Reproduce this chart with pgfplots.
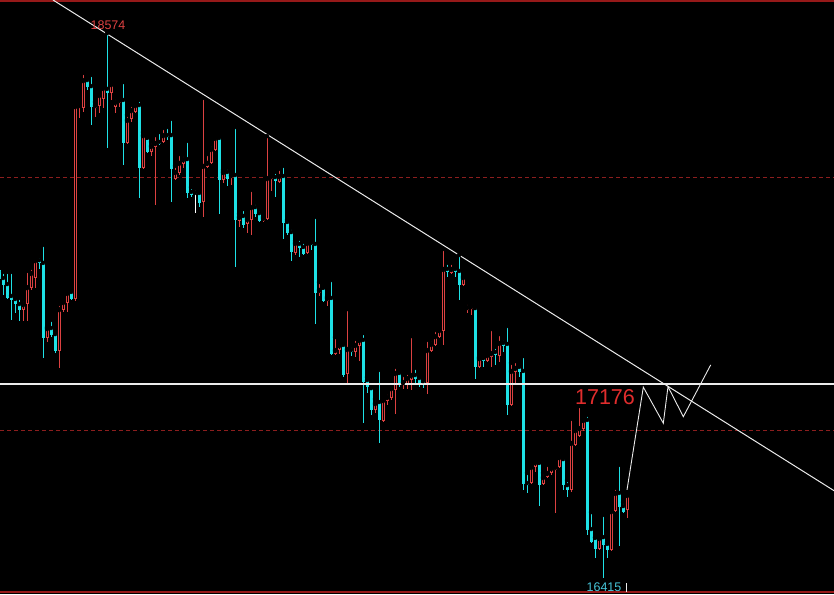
\documentclass[border=0pt]{standalone}
\usepackage{pgfplots}
\pgfplotsset{compat=1.18}
\usepackage{pgfplotstable}
\usepackage{fontspec}
\setmainfont{Liberation Sans}
\definecolor{cyanC}{RGB}{30,225,230}
\definecolor{redC}{RGB}{220,65,65}
\definecolor{redB}{RGB}{150,25,25}
\definecolor{redD}{RGB}{140,30,30}
\definecolor{redT}{RGB}{225,45,45}
\definecolor{cyanT}{RGB}{70,195,215}
\definecolor{whiteL}{RGB}{235,235,235}

% up (red) candles: x open high low close
\pgfplotstableread{
x o h l c
23 17477 17517 17434 17501
27 17501 17632 17434 17568
31 17565 17644 17557 17624
35 17604 17683 17565 17675
47 17367 17410 17351 17406
59 17315 17501 17248 17481
63 17477 17513 17469 17509
67 17505 17549 17469 17545
75 17521 18289 17513 18285
79 18281 18301 18238 18289
83 18277 18416 18261 18388
95 18277 18301 18242 18289
99 18285 18337 18258 18329
103 18313 18368 18277 18357
111 18337 18376 18309 18372
115 18281 18317 18258 18301
119 18297 18317 18281 18309
127 18139 18250 18135 18230
131 18234 18289 18222 18269
135 18261 18301 18258 18289
143 18040 18182 18036 18170
151 18103 18143 18087 18127
155 18123 18170 17893 18139
163 18143 18198 18139 18170
175 17996 18048 17992 18024
179 18020 18095 18012 18060
183 18056 18091 18040 18075
203 17905 18317 17846 18048
207 18044 18095 18040 18060
211 18060 18131 18056 18115
215 18111 18166 18107 18159
223 17992 18032 17980 18024
231 18000 18024 17972 18012
239 17830 17858 17806 17846
247 17818 17846 17782 17838
251 17834 17953 17774 17885
263 17830 17846 17826 17842
267 17838 18166 17834 18000
271 17996 18020 17949 18008
279 17984 18036 17980 18008
295 17703 17751 17695 17743
307 17703 17751 17699 17743
319 17545 17588 17533 17557
327 17513 17529 17493 17525
335 17303 17370 17299 17319
339 17319 17351 17303 17339
347 17224 17481 17188 17323
355 17311 17363 17291 17339
359 17335 17370 17275 17359
375 17081 17125 17070 17109
383 17038 17125 17034 17121
387 17117 17149 17101 17133
391 17129 17172 17121 17168
395 17161 17252 17066 17228
403 17184 17220 17165 17192
407 17184 17228 17165 17208
411 17200 17374 17161 17220
427 17188 17359 17145 17319
431 17315 17359 17311 17343
435 17339 17398 17335 17374
439 17370 17406 17367 17398
443 17394 17719 17339 17640
451 17624 17664 17620 17640
463 17576 17612 17572 17608
467 17477 17505 17466 17489
471 17481 17497 17458 17493
479 17252 17291 17248 17287
487 17275 17307 17271 17299
491 17291 17402 17252 17307
499 17295 17382 17271 17347
511 17101 17268 17097 17236
515 17232 17275 17180 17248
531 16792 16860 16788 16856
535 16856 16883 16836 16875
543 16788 16832 16784 16816
547 16816 16864 16812 16832
551 16832 16864 16824 16852
555 16844 16864 16674 16856
559 16856 16907 16852 16895
571 16765 17046 16757 16951
575 16943 17014 16939 17002
579 16978 17097 16974 17010
583 17006 17054 16998 17042
599 16531 16586 16527 16575
611 16527 16693 16523 16681
615 16681 16773 16677 16753
627 16685 16748 16654 16745
}\upc

% down (cyan) candles: x open high low close
\pgfplotstableread{
x o h l c
-1 17636 17656 17584 17600
3 17604 17628 17537 17576
7 17580 17628 17521 17525
11 17533 17628 17438 17517
15 17521 17533 17466 17501
19 17501 17525 17434 17477
39 17675 17691 17640 17664
43 17664 17735 17287 17367
51 17406 17438 17370 17378
55 17382 17394 17307 17315
71 17549 17557 17517 17521
87 18388 18400 18349 18360
91 18364 18408 18210 18281
107 18353 18574 18119 18337
123 18309 18380 18052 18139
139 18289 18309 17921 18040
147 18159 18162 18099 18103
159 18143 18182 18131 18135
167 18170 18202 18151 18162
171 18170 18234 17905 18036
187 18075 18147 17921 17941
191 17945 17964 17925 17933
199 17941 17953 17885 17901
219 18159 18166 17858 17992
227 18024 18040 17968 17996
235 18012 18202 17648 17834
243 17850 17877 17802 17814
255 17885 17901 17846 17858
259 17861 17877 17826 17830
275 18004 18024 17925 17988
283 18008 18048 17759 17822
287 17826 17834 17774 17782
291 17786 17802 17671 17707
299 17739 17759 17687 17723
303 17727 17747 17695 17699
311 17743 17745 17715 17735
315 17739 17846 17422 17545
323 17565 17568 17509 17513
331 17525 17596 17299 17303
343 17339 17351 17212 17220
351 17319 17335 17295 17311
363 17359 17386 17030 17192
367 17200 17212 17149 17172
371 17168 17172 17062 17081
379 17113 17240 16951 17042
399 17228 17236 17172 17184
415 17220 17248 17188 17204
419 17208 17212 17172 17188
423 17196 17204 17168 17188
447 17640 17664 17608 17628
455 17640 17644 17608 17628
459 17632 17695 17517 17576
475 17485 17497 17204 17252
483 17287 17291 17252 17275
495 17311 17331 17260 17299
503 17347 17363 17311 17335
507 17343 17414 17062 17101
519 17252 17256 17212 17232
523 17236 17295 16765 16788
527 16792 16832 16753 16784
539 16872 16875 16701 16784
563 16887 16895 16765 16784
567 16784 16804 16737 16765
587 17042 17062 16586 16606
591 16610 16677 16555 16559
595 16575 16578 16495 16531
603 16578 16666 16415 16547
607 16551 16555 16495 16527
619 16753 16864 16543 16697
623 16701 16717 16674 16677
}\dnc

% doji (white)
\pgfplotstableread{
x o h l c
195 17941 17957 17861 17937
}\dojic

\begin{document}
\begin{tikzpicture}
\fill[black] (0,0) rectangle (834pt,594pt);
\begin{axis}[
  at={(0,0)}, anchor=south west,
  width=834pt, height=594pt, scale only axis,
  xmin=0, xmax=834, ymin=16352.8, ymax=18705,
  axis line style={draw=none},
  xtick=\empty, ytick=\empty,
  axis background/.style={fill=black},
  clip=true,
]
% reference lines
\addplot[redD, line width=1pt, dash pattern=on 4pt off 3pt] coordinates {(0,18004) (834,18004)};
\addplot[redD, line width=1pt, dash pattern=on 4pt off 3pt] coordinates {(0,17002) (834,17002)};
\addplot[redB, line width=2pt] coordinates {(0,18701) (834,18701)};
\addplot[redB, line width=2pt] coordinates {(0,16359) (834,16359)};

% wicks
\addplot[only marks, mark=none, error bars/.cd, y dir=minus, y explicit, error mark=none,
  error bar style={draw=redC, line width=1pt, solid}]
  table[x=x, y=h, y error minus expr=\thisrow{h}-\thisrow{l}] {\upc};
\addplot[only marks, mark=none, error bars/.cd, y dir=minus, y explicit, error mark=none,
  error bar style={draw=cyanC, line width=1pt, solid}]
  table[x=x, y=h, y error minus expr=\thisrow{h}-\thisrow{l}] {\dnc};
\addplot[only marks, mark=none, error bars/.cd, y dir=minus, y explicit, error mark=none,
  error bar style={draw=white, line width=1pt, solid}]
  table[x=x, y=h, y error minus expr=\thisrow{h}-\thisrow{l}] {\dojic};

% bodies
\addplot[only marks, mark=none, error bars/.cd, y dir=minus, y explicit, error mark=none,
  error bar style={draw=cyanC, line width=3pt, solid}]
  table[x=x, y=o, y error minus expr=\thisrow{o}-\thisrow{c}] {\dnc};
\addplot[only marks, mark=none, error bars/.cd, y dir=minus, y explicit, error mark=none,
  error bar style={draw=white, line width=3pt, solid}]
  table[x=x, y=o, y error minus expr=\thisrow{o}-\thisrow{c}] {\dojic};
\addplot[only marks, mark=none, error bars/.cd, y dir=minus, y explicit, error mark=none,
  error bar style={draw=redC, line width=3pt, solid}]
  table[x=x, y=c, y error minus expr=\thisrow{c}-\thisrow{o}] {\upc};
\addplot[only marks, mark=none, error bars/.cd, y dir=minus, y explicit, error mark=none,
  error bar style={draw=black, line width=1pt, solid}]
  table[x=x, y expr=\thisrow{c}-4, y error minus expr={max(\thisrow{c}-\thisrow{o}-8,0)}] {\upc};

% horizontal level and trend line
\addplot[whiteL, line width=1.2pt] coordinates {(0,17184) (834,17184)};
\addplot[whiteL, line width=1pt] coordinates {(53,18705) (834,16762)};
% projected path
\addplot[whiteL, line width=0.9pt] coordinates {(627,16765) (643.3,17172) (663.3,17029) (668,17174) (683.3,17055) (710.7,17260)};
% time marker
\addplot[whiteL, line width=1pt] coordinates {(626,16396) (626,16361)};

\node[text=redC, font=\fontsize{12.5}{13}\selectfont, inner sep=0pt] at (axis cs:108,18606) {18574};
\node[text=cyanT, font=\fontsize{12.5}{13}\selectfont, inner sep=0pt] at (axis cs:604,16381) {16415};
\node[text=redT, font=\fontsize{21.5}{22}\selectfont, inner sep=0pt] at (axis cs:605,17133) {17176};
\end{axis}
\end{tikzpicture}
\end{document}
